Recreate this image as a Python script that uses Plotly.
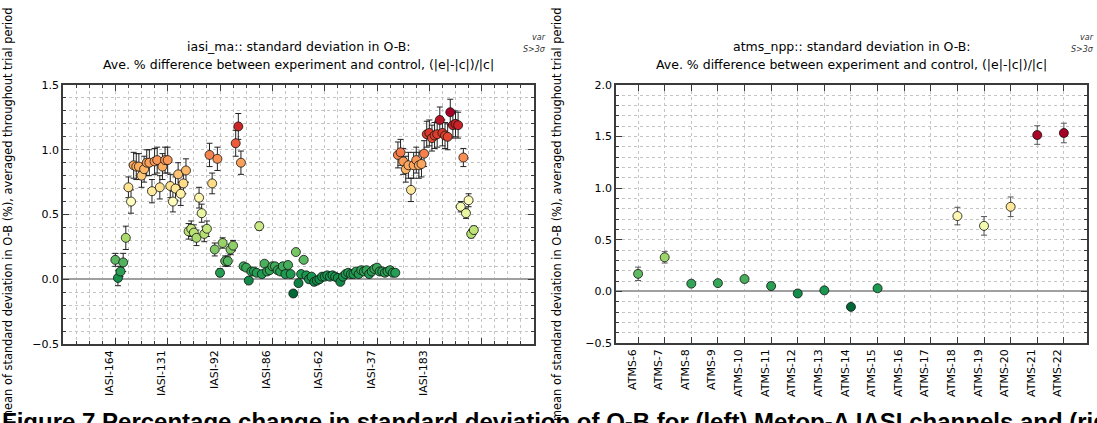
import plotly.graph_objects as go

# ---------------- data ----------------
iasi_tick_labels = ["IASI-164", "IASI-131", "IASI-92", "IASI-86", "IASI-62", "IASI-37", "IASI-183", "", ""]
iasi_tick_pos = [0, 20, 40, 60, 80, 100, 120, 140, 160]

iasi_values = [
    0.15, 0.01, 0.06, 0.13, 0.32, 0.71, 0.60, 0.88, 0.87, 0.87,
    0.80, 0.85, 0.90, 0.90, 0.68, 0.91, 0.92, 0.71, 0.87, 0.92,
    0.92, 0.72, 0.60, 0.70, 0.81, 0.66, 0.74, 0.84, 0.37, 0.39,
    0.36, 0.32, 0.63, 0.51, 0.35, 0.39, 0.96, 0.74, 0.23, 0.93,
    0.05, 0.28, 0.14, 0.14, 0.23, 0.26, 1.05, 1.18, 0.90, 0.10,
    0.09, -0.01, 0.06, 0.06, 0.05, 0.41, 0.04, 0.12, 0.06, 0.07,
    0.10, 0.10, 0.07, 0.06, 0.10, 0.04, 0.11, 0.04, -0.11, 0.21,
    -0.03, 0.04, 0.15, 0.03, 0.00, 0.02, -0.02, -0.01, 0.00, 0.02,
    0.02, 0.03, 0.02, 0.03, 0.02, 0.01, -0.02, 0.02, 0.04, 0.05,
    0.04, 0.04, 0.06, 0.04, 0.07, 0.06, 0.07, 0.04, 0.06, 0.08,
    0.09, 0.06, 0.06, 0.05, 0.06, 0.07, 0.05, 0.05, 0.96, 0.98,
    0.91, 0.85, 0.88, 0.69, 0.88, 0.92, 0.88, 0.89, 0.97, 1.12,
    1.13, 1.09, 1.11, 1.12, 1.23, 1.13, 1.11, 1.10, 1.29, 1.19,
    1.20, 1.19, 0.56, 0.94, 0.51, 0.61, 0.35, 0.38,
]
iasi_errors = [
    0.05, 0.06, 0.04, 0.07, 0.09, 0.08, 0.09, 0.10, 0.10, 0.10,
    0.09, 0.10, 0.10, 0.10, 0.09, 0.10, 0.10, 0.09, 0.10, 0.10,
    0.10, 0.09, 0.08, 0.09, 0.09, 0.09, 0.08, 0.09, 0.06, 0.06,
    0.06, 0.06, 0.08, 0.07, 0.06, 0.06, 0.09, 0.08, 0.05, 0.09,
    0.03, 0.04, 0.04, 0.04, 0.04, 0.04, 0.10, 0.10, 0.09, 0.02,
    0.02, 0.02, 0.02, 0.02, 0.02, 0.03, 0.02, 0.02, 0.02, 0.02,
    0.02, 0.02, 0.02, 0.02, 0.02, 0.02, 0.02, 0.02, 0.02, 0.02,
    0.02, 0.02, 0.02, 0.02, 0.02, 0.02, 0.02, 0.02, 0.02, 0.02,
    0.02, 0.02, 0.02, 0.02, 0.02, 0.02, 0.02, 0.02, 0.02, 0.02,
    0.02, 0.02, 0.02, 0.02, 0.02, 0.02, 0.02, 0.02, 0.02, 0.02,
    0.02, 0.02, 0.02, 0.02, 0.02, 0.02, 0.02, 0.02, 0.10, 0.10,
    0.10, 0.10, 0.10, 0.09, 0.10, 0.10, 0.10, 0.10, 0.10, 0.10,
    0.10, 0.10, 0.10, 0.10, 0.10, 0.10, 0.10, 0.10, 0.10, 0.10,
    0.10, 0.10, 0.04, 0.07, 0.04, 0.05, 0.03, 0.03,
]

atms_labels = ["ATMS-6", "ATMS-7", "ATMS-8", "ATMS-9", "ATMS-10", "ATMS-11", "ATMS-12",
               "ATMS-13", "ATMS-14", "ATMS-15", "ATMS-16", "ATMS-17", "ATMS-18",
               "ATMS-19", "ATMS-20", "ATMS-21", "ATMS-22"]
atms_values = [0.17, 0.33, 0.075, 0.08, 0.12, 0.052, -0.02, 0.01, -0.15, 0.03,
               None, None, 0.73, 0.635, 0.82, 1.515, 1.535]
atms_errors = [0.065, 0.055, 0.02, 0.02, 0.02, 0.02, 0.015, 0.015, 0.015, 0.015,
               None, None, 0.085, 0.09, 0.095, 0.09, 0.095]

caption = ("Figure 7 Percentage change in standard deviation of O-B for (left) "
           "Metop-A IASI channels and (right) NPP ATMS channels")

W, H = 1097, 423


def px(x):
    return x / W


def py(y):
    return 1 - y / H


iasi_x = list(range(len(iasi_values)))
atms_x = list(range(len(atms_labels)))

grid_col = "#c4c4c4"
spine_col = "#3a3a3a"
tick_font = dict(family="DejaVu Sans", size=11, color="black")

fig = go.Figure()

fig.add_trace(go.Scatter(
    x=iasi_x, y=iasi_values, mode="markers",
    error_y=dict(type="data", array=iasi_errors, color="#222222", thickness=1, width=3),
    marker=dict(size=9, color=iasi_values, colorscale="RdYlGn", reversescale=True,
                line=dict(color="#111111", width=0.8)),
    xaxis="x", yaxis="y", showlegend=False,
))

atms_color = [v if v is not None else 0 for v in atms_values]
fig.add_trace(go.Scatter(
    x=atms_x, y=atms_values, mode="markers",
    error_y=dict(type="data", array=[e if e is not None else 0 for e in atms_errors],
                 color="#555555", thickness=1, width=3),
    marker=dict(size=9, color=atms_color, colorscale="RdYlGn", reversescale=True,
                cmin=min(v for v in atms_values if v is not None),
                cmax=max(v for v in atms_values if v is not None),
                line=dict(color="#111111", width=0.8)),
    xaxis="x2", yaxis="y2", showlegend=False,
))

common_axis = dict(
    showline=True, linecolor=spine_col, linewidth=1.5, mirror="allticks",
    ticks="inside", ticklen=6, tickcolor=spine_col, tickwidth=1,
    showgrid=True, gridcolor=grid_col, griddash="dot", gridwidth=1,
    tickfont=tick_font, automargin=False,
)

fig.update_layout(
    width=W, height=H,
    margin=dict(l=0, r=0, t=0, b=0),
    paper_bgcolor="white", plot_bgcolor="white",
    xaxis=dict(
        domain=[px(63), px(534)], range=[-20, 160], anchor="y",
        tickmode="array", tickvals=iasi_tick_pos, ticktext=iasi_tick_labels,
        tickangle=-90, zeroline=False, ticklabelshift=-6,
        minor=dict(dtick=5, tick0=0, ticks="inside", ticklen=3, tickcolor=spine_col,
                   showgrid=True, gridcolor=grid_col, griddash="dot"),
        **common_axis,
    ),
    yaxis=dict(
        domain=[py(344), py(85)], range=[-0.5, 1.5], anchor="x",
        dtick=0.5, tick0=0, tickformat=".1f",
        zeroline=True, zerolinecolor="#a0a0a0", zerolinewidth=2,
        minor=dict(dtick=0.1, tick0=0, ticks="inside", ticklen=3, tickcolor=spine_col,
                   showgrid=True, gridcolor=grid_col, griddash="dot"),
        **common_axis,
    ),
    xaxis2=dict(
        domain=[px(616), px(1087)], range=[-0.83, 16.87], anchor="y2",
        tickmode="array", tickvals=atms_x, ticktext=atms_labels,
        tickangle=-90, zeroline=False, ticklabelshift=-6,
        **common_axis,
    ),
    yaxis2=dict(
        domain=[py(343), py(85)], range=[-0.5, 2.0], anchor="x2",
        dtick=0.5, tick0=0, tickformat=".1f",
        zeroline=True, zerolinecolor="#a0a0a0", zerolinewidth=2,
        minor=dict(dtick=0.1, tick0=0, ticks="inside", ticklen=3, tickcolor=spine_col,
                   showgrid=True, gridcolor=grid_col, griddash="dot"),
        **common_axis,
    ),
)

title_font = dict(family="DejaVu Sans", size=12.5, color="black")
ylab = "mean of standard deviation in O-B (%), averaged throughout trial period"
small_font = dict(family="DejaVu Sans", size=8, color="#333")
ann = []
for cx, name in [(298.5, "iasi_ma"), (851.5, "atms_npp")]:
    ann.append(dict(x=px(cx), y=py(46), xref="paper", yref="paper", showarrow=False,
                    text=f"{name}:: standard deviation in O-B:", font=title_font,
                    xanchor="center", yanchor="middle"))
    ann.append(dict(x=px(cx), y=py(64), xref="paper", yref="paper", showarrow=False,
                    text="Ave. % difference between experiment and control, (|e|-|c|)/|c|",
                    font=title_font, xanchor="center", yanchor="middle"))
for rx in [547, 1095]:
    ann.append(dict(x=px(rx), y=py(37), xref="paper", yref="paper", showarrow=False,
                    text="<i>var</i>", font=small_font, borderpad=0,
                    xanchor="right", yanchor="middle"))
    ann.append(dict(x=px(rx), y=py(50), xref="paper", yref="paper", showarrow=False,
                    text="<i>S>3σ</i>", font=small_font, borderpad=0,
                    xanchor="right", yanchor="middle"))
for lx in [8, 557]:
    ann.append(dict(x=px(lx), y=py(214), xref="paper", yref="paper", showarrow=False,
                    text=ylab, textangle=-90, font=dict(family="DejaVu Sans", size=11.4, color="black"),
                    xanchor="center", yanchor="middle"))
ann.append(dict(x=px(0), y=py(406), xref="paper", yref="paper", showarrow=False,
                text=f"<b>{caption}</b>",
                font=dict(family="Liberation Sans", size=24, color="black"),
                xanchor="left", yanchor="top"))
fig.update_layout(annotations=ann)

fig.write_html("out.html", config={"displayModeBar": False},
               post_script="document.body.style.margin='0px';")
